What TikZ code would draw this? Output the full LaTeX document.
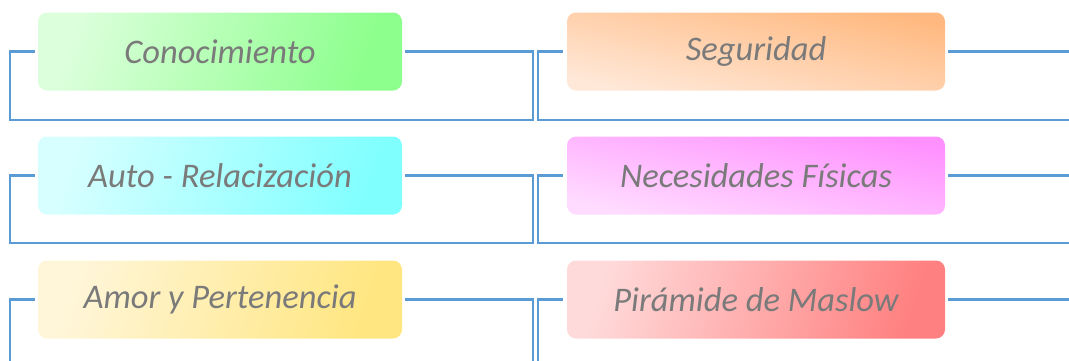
\documentclass[tikz,border=0pt]{standalone}
\usepackage{fontspec}
\setmainfont{Carlito}
\begin{document}
\begin{tikzpicture}[x=1pt,y=-1pt,
  boxL/.style={rounded corners=9pt, minimum width=364pt, minimum height=78pt, inner sep=0pt,
    text=textgray, font=\fontsize{34.5}{40}\selectfont\itshape},
  boxR/.style={boxL, minimum width=378pt},
  link/.style={draw=linkblue, line width=2.6pt, line join=miter},
]
\definecolor{textgray}{RGB}{122,122,122}
\definecolor{linkblue}{RGB}{91,155,213}
\useasboundingbox (0,0) rectangle (1069,360);

% boxes
\node[boxL, top color={rgb,255:red,220;green,255;blue,220}, bottom color={rgb,255:red,140;green,255;blue,140}, shading angle=72] (L1) at (220,51.5) {Conocimiento};
\node[boxR, top color={rgb,255:red,255;green,185;blue,128}, bottom color={rgb,255:red,255;green,232;blue,216}, shading angle=-12] (R1) at (756,51.5) {Seguridad};
\node[boxL, top color={rgb,255:red,215;green,255;blue,255}, bottom color={rgb,255:red,128;green,255;blue,255}, shading angle=72] (L2) at (220,175.5) {Auto - Relacización};
\node[boxR, top color={rgb,255:red,255;green,145;blue,255}, bottom color={rgb,255:red,255;green,220;blue,255}, shading angle=-12] (R2) at (756,175.5) {Necesidades Físicas};
\node[boxL, top color={rgb,255:red,255;green,246;blue,218}, bottom color={rgb,255:red,255;green,230;blue,128}, shading angle=72] (L3) at (220,299.5) {Amor y Pertenencia};
\node[boxR, top color={rgb,255:red,255;green,218;blue,218}, bottom color={rgb,255:red,255;green,128;blue,128}, shading angle=72] (R3) at (756,299.5) {Pirámide de Maslow};

% connector corner coordinates
\coordinate (lb1) at (533,120);  \coordinate (la1) at (10,120);
\coordinate (rb1) at (538,120);  \coordinate (re1) at (1069,120);
\coordinate (lb2) at (533,243);  \coordinate (la2) at (10,243);
\coordinate (rb2) at (538,243);  \coordinate (re2) at (1069,243);
\coordinate (lb3) at (533,362);  \coordinate (la3) at (10,362);
\coordinate (rb3) at (538,362);
\coordinate (e1) at (1069,51.5);
\coordinate (e2) at (1069,175.5);
\coordinate (e3) at (1069,299.5);

% row 1
\draw[link] ([xshift=3pt]L1.east) -| (lb1) -- (la1) |- ([xshift=-3pt]L1.west);
\draw[link] ([xshift=-4pt]R1.west) -| (rb1) -- (re1);
\draw[link] ([xshift=3pt]R1.east) -- (e1);
% row 2
\draw[link] ([xshift=3pt]L2.east) -| (lb2) -- (la2) |- ([xshift=-3pt]L2.west);
\draw[link] ([xshift=-4pt]R2.west) -| (rb2) -- (re2);
\draw[link] ([xshift=3pt]R2.east) -- (e2);
% row 3
\draw[link] ([xshift=3pt]L3.east) -| (lb3);
\draw[link] (la3) |- ([xshift=-3pt]L3.west);
\draw[link] ([xshift=-4pt]R3.west) -| (rb3);
\draw[link] ([xshift=3pt]R3.east) -- (e3);
\end{tikzpicture}
\end{document}
